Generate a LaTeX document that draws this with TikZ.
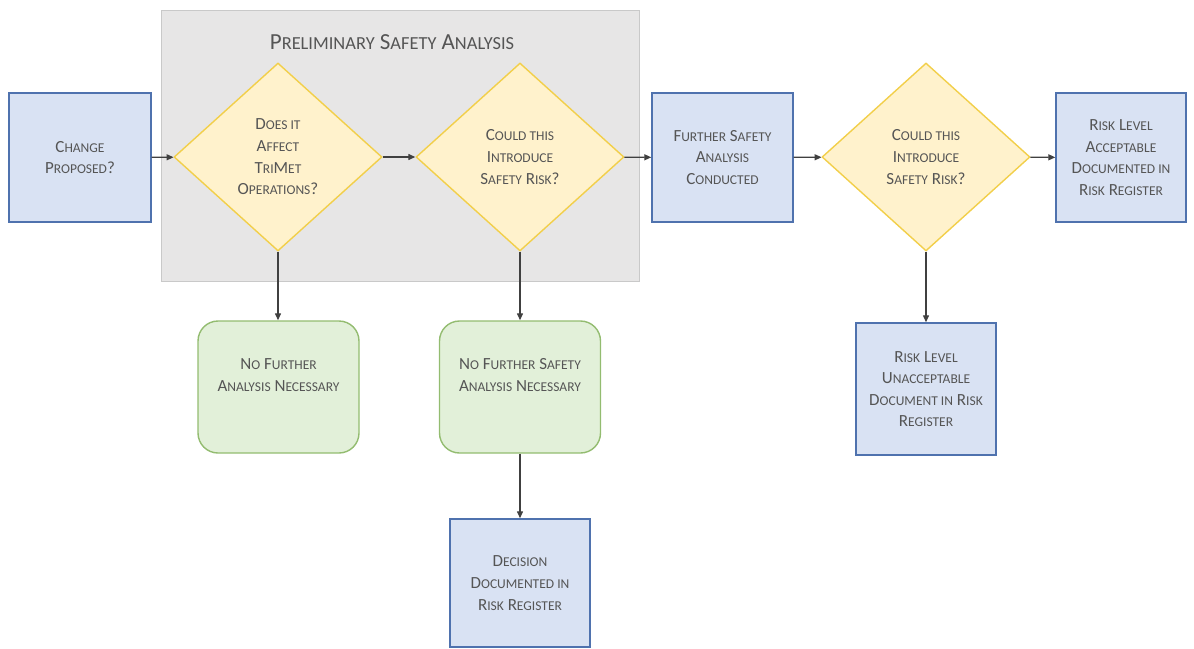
\documentclass[tikz,border=0pt]{standalone}
\usepackage{fontspec}
\setmainfont{Carlito}
\usetikzlibrary{shapes.geometric,arrows.meta}
\definecolor{txt}{HTML}{555555}
\definecolor{bluefill}{HTML}{D9E2F3}
\definecolor{blueedge}{HTML}{4F72AE}
\definecolor{yelfill}{HTML}{FFF2CC}
\definecolor{yeledge}{HTML}{F2CF4A}
\definecolor{grnfill}{HTML}{E2F0D9}
\definecolor{grnedge}{HTML}{93BC70}
\definecolor{grayfill}{HTML}{E7E6E6}
\definecolor{grayedge}{HTML}{C9C9C9}
\definecolor{arrowc}{HTML}{404040}
% hand-made small capitals (the font has no smcp feature)
\newcommand\sm[1]{{\fontsize{13.5}{21.6}\selectfont #1}}
\newcommand\smt[1]{{\fontsize{18.4}{26}\selectfont #1}}
\tikzset{
  every node/.style={font=\fontsize{17}{21.6}\selectfont, text=txt, align=center},
  bluebox/.style={draw=blueedge, fill=bluefill, line width=1.4pt, inner sep=0pt},
  decision/.style={diamond, draw=yeledge, fill=yelfill, line width=1.4pt, inner sep=0pt,
    minimum width=208pt, minimum height=188pt},
  endbox/.style={draw=grnedge, fill=grnfill, line width=1.4pt, rounded corners=20pt,
    minimum width=161pt, minimum height=132pt, inner sep=0pt},
  flow/.style={draw=arrowc, line width=1.3pt, -{Triangle[length=7pt,width=6pt]}}
}
\begin{document}
\begin{tikzpicture}[x=1pt,y=-1pt]
\useasboundingbox (0,0) rectangle (1194,648);
% grey panel for the preliminary stage
\draw[fill=grayfill, draw=grayedge, line width=0.8pt] (161,10) rectangle (639,281);
\node[font=\fontsize{23}{26}\selectfont] (title) at (392,42)
  {P\smt{RELIMINARY} S\smt{AFETY} A\smt{NALYSIS}};

% main row
\node[bluebox, minimum width=142pt, minimum height=129pt] (change) at (80,157.5)
  {C\sm{HANGE}\\P\sm{ROPOSED}?};
\node[decision] (affect) at (278,157)
  {D\sm{OES IT}\\A\sm{FFECT}\\T\sm{RI}M\sm{ET}\\O\sm{PERATIONS}?};
\node[decision] (risk1) at (520,157)
  {C\sm{OULD THIS}\\I\sm{NTRODUCE}\\S\sm{AFETY} R\sm{ISK}?};
\node[bluebox, minimum width=141pt, minimum height=129pt] (further) at (722.5,157.5)
  {F\sm{URTHER} S\sm{AFETY}\\A\sm{NALYSIS}\\C\sm{ONDUCTED}};
\node[decision] (risk2) at (926,157)
  {C\sm{OULD THIS}\\I\sm{NTRODUCE}\\S\sm{AFETY} R\sm{ISK}?};
\node[bluebox, minimum width=130pt, minimum height=129pt] (accept) at (1121,157.5)
  {R\sm{ISK} L\sm{EVEL}\\A\sm{CCEPTABLE}\\D\sm{OCUMENTED IN}\\R\sm{ISK} R\sm{EGISTER}};

% lower outcomes
\node[endbox] (nofurther) at (278.5,387) {};
\node[anchor=north] (nofurthertxt) at ([yshift=-35pt]nofurther.north)
  {N\sm{O} F\sm{URTHER}\\A\sm{NALYSIS} N\sm{ECESSARY}};
\node[endbox] (nosafety) at (520,387) {};
\node[anchor=north] (nosafetytxt) at ([yshift=-35pt]nosafety.north)
  {N\sm{O} F\sm{URTHER} S\sm{AFETY}\\A\sm{NALYSIS} N\sm{ECESSARY}};
\node[bluebox, minimum width=140pt, minimum height=128pt] (decision) at (520,583)
  {D\sm{ECISION}\\D\sm{OCUMENTED IN}\\R\sm{ISK} R\sm{EGISTER}};
\node[bluebox, minimum width=140pt, minimum height=132pt] (unaccept) at (926,389)
  {R\sm{ISK} L\sm{EVEL}\\U\sm{NACCEPTABLE}\\D\sm{OCUMENT IN} R\sm{ISK}\\R\sm{EGISTER}};

% connectors
\draw[flow] (change) -- (affect);
\draw[flow] (affect) -- (risk1);
\draw[flow] (risk1) -- (further);
\draw[flow] (further) -- (risk2);
\draw[flow] (risk2) -- (accept);
\draw[flow] (affect.south) -- (affect.south |- nofurther.north);
\draw[flow] (risk1.south) -- (nosafety.north);
\draw[flow] (nosafety.south) -- (decision.north);
\draw[flow] (risk2.south) -- (unaccept.north);
\end{tikzpicture}
\end{document}
